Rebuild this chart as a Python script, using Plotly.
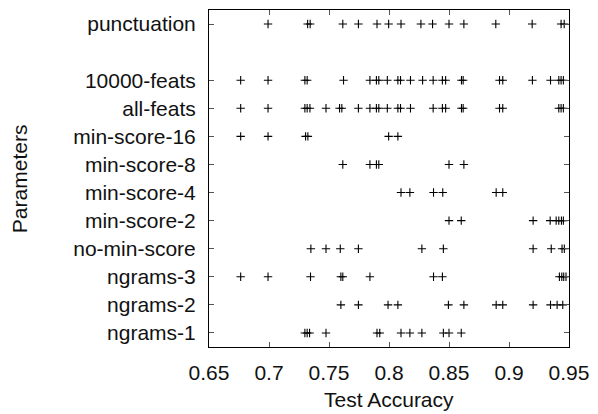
import plotly.graph_objects as go

# Rows from bottom to top; None marks the empty gap row
categories = ["ngrams-1", "ngrams-2", "ngrams-3", "no-min-score", "min-score-2",
              "min-score-4", "min-score-8", "min-score-16", "all-feats",
              "10000-feats", None, "punctuation"]

acc = {
    "ngrams-1": [0.7299, 0.7318, 0.7338, 0.7475, 0.7900, 0.7923, 0.8100, 0.8174,
                 0.8274, 0.8453, 0.8500, 0.8602],
    "ngrams-2": [0.7599, 0.7745, 0.7992, 0.8074, 0.8495, 0.8624, 0.8893, 0.8948,
                 0.9201, 0.9346, 0.9401, 0.9448],
    "ngrams-3": [0.6764, 0.6992, 0.7346, 0.7599, 0.7615, 0.7841, 0.8371, 0.8445,
                 0.9420, 0.9440, 0.9456, 0.9475],
    "no-min-score": [0.7349, 0.7475, 0.7594, 0.7745, 0.8274, 0.8453, 0.9201, 0.9352,
                     0.9442, 0.9461],
    "min-score-2": [0.8500, 0.8602, 0.9201, 0.9343, 0.9393, 0.9415, 0.9437, 0.9453],
    "min-score-4": [0.8100, 0.8174, 0.8371, 0.8448, 0.8893, 0.8948],
    "min-score-8": [0.7615, 0.7841, 0.7895, 0.7915, 0.8500, 0.8624],
    "min-score-16": [0.6764, 0.6992, 0.7305, 0.7324, 0.7997, 0.8074],
    "all-feats": [0.6764, 0.6992, 0.7299, 0.7318, 0.7341, 0.7475, 0.7588, 0.7607,
                  0.7745, 0.7841, 0.7895, 0.7915, 0.7986, 0.8074, 0.8096, 0.8179,
                  0.8368, 0.8445, 0.8472, 0.8604, 0.8618, 0.8921, 0.8948, 0.9415,
                  0.9434, 0.9453],
    "10000-feats": [0.6764, 0.6992, 0.7299, 0.7318, 0.7621, 0.7841, 0.7895, 0.7915,
                    0.7986, 0.8074, 0.8096, 0.8179, 0.8280, 0.8368, 0.8445, 0.8472,
                    0.8604, 0.8618, 0.8921, 0.8948, 0.9195, 0.9346, 0.9415, 0.9434,
                    0.9453],
    "punctuation": [0.6992, 0.7322, 0.7343, 0.7615, 0.7745, 0.7900, 0.7997, 0.8100,
                    0.8266, 0.8363, 0.8500, 0.8624, 0.8890, 0.9193, 0.9434, 0.9460],
}

x_ticks = [0.65, 0.7, 0.75, 0.8, 0.85, 0.9, 0.95]
x_tick_text = ["0.65", "0.7", "0.75", "0.8", "0.85", "0.9", "0.95"]

FONT = "Liberation Sans, Arial, Helvetica, sans-serif"
FS = 21

fig = go.Figure()
tickvals, ticktext = [], []
for i, name in enumerate(categories):
    pos = i + 1
    if name is None:
        continue
    tickvals.append(pos)
    ticktext.append(name)
    vals = acc[name]
    fig.add_trace(go.Scatter(
        x=vals, y=[pos] * len(vals), mode="markers", name=name, showlegend=False,
        marker=dict(symbol="cross-thin", size=6, color="black",
                    line=dict(color="black", width=1.1)),
    ))

fig.update_layout(
    width=598, height=414,
    margin=dict(l=209, r=25, t=9, b=67),
    paper_bgcolor="white", plot_bgcolor="white",
    font=dict(family=FONT, size=FS, color="#111"),
)
fig.update_xaxes(
    range=[0.65, 0.95], tickvals=x_ticks, ticktext=x_tick_text,
    ticks="inside", ticklen=5, tickcolor="#555", tickwidth=1,
    showline=True, linecolor="black", linewidth=1, mirror="ticks",
    showgrid=False, zeroline=False, ticklabelstandoff=7,
    tickfont=dict(size=FS),
)
fig.update_yaxes(
    range=[0.5, 12.5], tickvals=tickvals, ticktext=ticktext,
    ticks="inside", ticklen=5, tickcolor="#555", tickwidth=1,
    showline=True, linecolor="black", linewidth=1, mirror="ticks",
    showgrid=False, zeroline=False, ticklabelstandoff=8,
    tickfont=dict(size=FS),
)
fig.add_annotation(text="Test Accuracy", xref="paper", yref="paper",
                   x=0.5, y=-0.157, showarrow=False, yanchor="middle",
                   font=dict(size=FS, family=FONT, color="#111"))
fig.add_annotation(text="Parameters", xref="paper", yref="paper",
                   x=-0.526, y=0.5, showarrow=False, textangle=-90,
                   xanchor="center", yanchor="middle",
                   font=dict(size=FS, family=FONT, color="#111"))

fig.write_html("out.html")
